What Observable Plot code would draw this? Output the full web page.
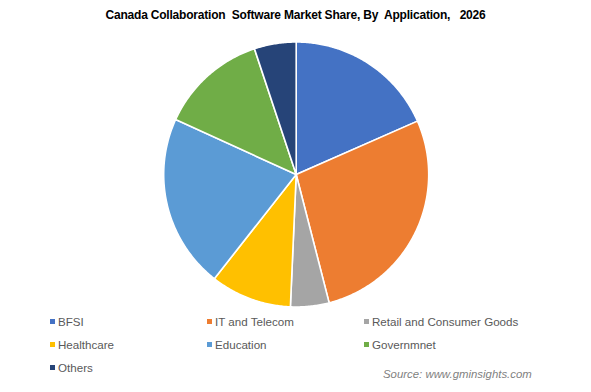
<!DOCTYPE html>
<html>
<head>
<meta charset="utf-8">
<script src="https://cdn.jsdelivr.net/npm/d3@7"></script>
<script src="https://cdn.jsdelivr.net/npm/@observablehq/plot@0.6"></script>
<style>
  html, body { margin: 0; padding: 0; background: #fff; }
  #wrap { position: relative; width: 591px; height: 392px; overflow: hidden; font-family: "Liberation Sans", Arial, sans-serif; }
  #title { position: absolute; left: 0; top: 8px; width: 591px; text-align: center; font-weight: bold; font-size: 12px; color: #000; white-space: pre; letter-spacing: -0.2px; }
  #chart { position: absolute; left: 0; top: 34px; }
  .lg { position: absolute; font-size: 11.6px; color: #595959; white-space: nowrap; line-height: 14px; }
  .sw { display: inline-block; width: 5px; height: 5px; margin-right: 3px; vertical-align: 2px; }
  #source { position: absolute; left: 383px; top: 368px; font-size: 11.4px; font-style: italic; color: #7f7f7f; }
</style>
</head>
<body>
<div id="wrap">
  <div id="title"></div>
  <div id="chart"></div>
  <div id="legend"></div>
  <div id="source"></div>
</div>
<script>
const titleText = "Canada Collaboration  Software Market Share, By  Application,   2026";
const sourceText = "Source: www.gminsights.com";
const categories = ["BFSI", "IT and Telecom", "Retail and Consumer Goods", "Healthcare", "Education", "Governmnet", "Others"];
const shares = [18.4, 27.6, 4.7, 9.9, 21.2, 13.1, 5.1];
const colors = ["#4472C4", "#ED7D31", "#A5A5A5", "#FFC000", "#5B9BD5", "#70AD47", "#264478"];

document.getElementById("title").textContent = titleText;
document.getElementById("source").textContent = sourceText;

const data = categories.map((c, i) => ({category: c, value: shares[i]}));
const arcs = d3.pie().sort(null).value(d => d.value).startAngle(0).endAngle(2 * Math.PI)(data);

// polygon points for each slice, in unit-radius coordinates
const pts = [];
for (const a of arcs) {
  const cat = a.data.category;
  pts.push({category: cat, x: 0, y: 0});
  const n = Math.max(2, Math.ceil((a.endAngle - a.startAngle) / 0.01));
  for (let k = 0; k <= n; k++) {
    const t = a.startAngle + (a.endAngle - a.startAngle) * k / n;
    pts.push({category: cat, x: Math.sin(t), y: Math.cos(t)});
  }
  pts.push({category: cat, x: 0, y: 0});
}

const W = 591, H = 280, R = 132.5, cx = 295.7, cy = 140;
const plot = Plot.plot({
  width: W,
  height: H,
  margin: 0,
  x: {domain: [-cx / R, (W - cx) / R], axis: null},
  y: {domain: [-(H - cy) / R, cy / R], axis: null},
  color: {domain: categories, range: colors},
  marks: [
    Plot.line(pts, {x: "x", y: "y", z: "category", fill: "category", stroke: "white", strokeWidth: 1.6, curve: "linear", strokeLinejoin: "round"})
  ]
});
document.getElementById("chart").appendChild(plot);

// legend
const colX = [50, 207, 364];
const rowY = [315, 338, 361];
const lg = document.getElementById("legend");
categories.forEach((c, i) => {
  const d = document.createElement("div");
  d.className = "lg";
  d.style.left = colX[i % 3] + "px";
  d.style.top = rowY[Math.floor(i / 3)] + "px";
  const s = document.createElement("span");
  s.className = "sw";
  s.style.background = colors[i];
  d.appendChild(s);
  d.appendChild(document.createTextNode(c));
  lg.appendChild(d);
});
</script>
</body>
</html>
